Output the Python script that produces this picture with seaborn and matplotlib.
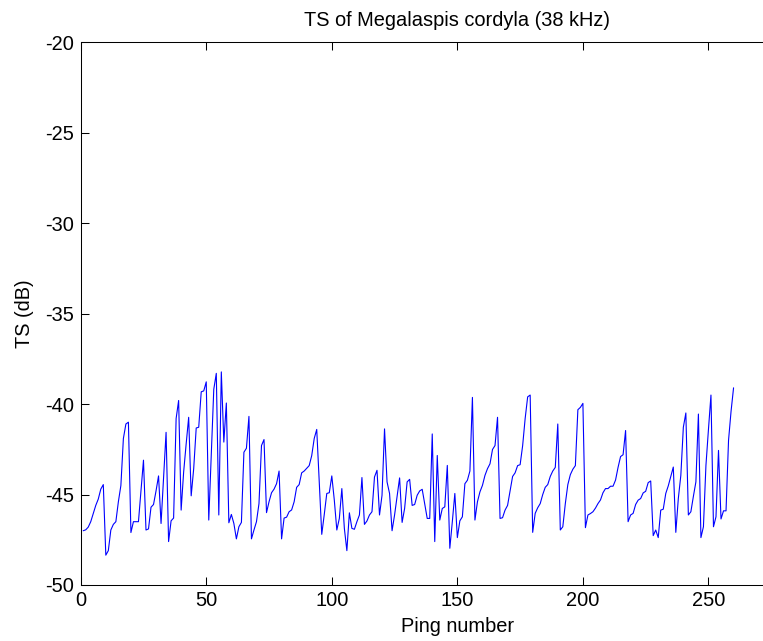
import numpy as np
import pandas as pd
import matplotlib
matplotlib.use("Agg")
import matplotlib.pyplot as plt
import seaborn as sns

# Target strength per ping (dB), pings 1..260
ping = np.arange(1, 261)
ts_db = [
    -47.0, -46.95, -46.8, -46.5, -46.05, -45.6, -45.25, -44.7, -44.45, -48.35,
    -48.1, -46.96, -46.65, -46.5, -45.4, -44.5, -41.9, -41.1, -41.0, -47.1,
    -46.5, -46.5, -46.5, -44.8, -43.1, -46.96, -46.9, -45.7, -45.55, -44.8,
    -43.97, -46.6, -44.1, -41.56, -47.6, -46.45, -46.3, -40.8, -39.8, -45.86,
    -43.75, -42.2, -40.73, -45.07, -43.57, -41.32, -41.28, -39.32, -39.27, -38.77,
    -46.41, -42.8, -39.18, -38.3, -46.13, -38.22, -42.1, -39.94, -46.56, -46.1,
    -46.6, -47.45, -46.78, -46.54, -42.66, -42.44, -40.68, -47.45, -46.96, -46.5,
    -45.5, -42.29, -41.96, -46.0, -45.4, -44.9, -44.7, -44.4, -43.7, -47.45,
    -46.3, -46.25, -45.95, -45.85, -45.4, -44.6, -44.45, -43.8, -43.7, -43.55,
    -43.4, -42.85, -41.9, -41.4, -44.3, -47.2, -46.1, -44.94, -44.9, -43.97,
    -45.31, -46.96, -46.32, -44.67, -46.87, -48.1, -46.01, -46.87, -46.92, -46.5,
    -46.13, -44.06, -46.65, -46.46, -46.13, -45.95, -44.03, -43.66, -46.13, -45.04,
    -41.37, -44.3, -44.94, -47.0, -46.13, -45.1, -44.08, -46.54, -45.77, -44.3,
    -44.16, -45.6, -45.55, -45.04, -44.8, -44.71, -45.5, -46.32, -46.32, -41.65,
    -47.6, -42.84, -46.41, -45.77, -45.68, -43.39, -47.97, -46.5, -44.94, -47.38,
    -46.45, -46.23, -44.4, -44.21, -43.7, -39.63, -46.41, -45.4, -44.85, -44.49,
    -43.94, -43.57, -43.3, -42.51, -42.29, -40.73, -46.32, -46.28, -45.86, -45.6,
    -44.8, -44.0, -43.8, -43.4, -43.35, -42.3, -40.8, -39.6, -39.5, -47.09,
    -46.04, -45.73, -45.5, -45.0, -44.6, -44.45, -44.0, -43.7, -43.5, -41.1,
    -46.96, -46.78, -45.5, -44.45, -43.9, -43.6, -43.4, -40.31, -40.18, -39.96,
    -46.83, -46.13, -46.05, -45.95, -45.75, -45.5, -45.3, -44.9, -44.67, -44.67,
    -44.54, -44.54, -44.2, -43.5, -42.9, -42.8, -41.46, -46.5, -46.13, -46.04,
    -45.55, -45.31, -45.22, -44.91, -44.82, -44.34, -44.25, -47.27, -46.96, -47.38,
    -45.86, -45.81, -44.94, -44.52, -44.0, -43.48, -47.09, -45.22, -43.94, -41.28,
    -40.49, -46.13, -45.95, -45.1, -44.3, -40.55, -47.38, -46.78, -43.39, -41.4,
    -39.5, -46.78, -46.23, -42.56, -46.35, -45.9, -45.9, -42.0, -40.4, -39.1,
]
x_ticks = [0, 50, 100, 150, 200, 250]
y_ticks = [-50, -45, -40, -35, -30, -25, -20]

df = pd.DataFrame({"ping": ping, "ts": ts_db})

sns.set_theme(style="white")
plt.rcParams["font.family"] = ["Liberation Sans", "DejaVu Sans"]

W, H = 763, 641
fig = plt.figure(figsize=(W / 100, H / 100), dpi=100)
fig.patch.set_facecolor("white")

# axes box: x 0..300 spans 80.7 -> 834 px, y -50..-20 spans 585 -> 42.3 px
left, right = 80.7, 834.0
top, bottom = 42.3, 585.0
ax = fig.add_axes([left / W, 1 - bottom / H, (right - left) / W, (bottom - top) / H])

sns.lineplot(data=df, x="ping", y="ts", color=(0, 0, 1), linewidth=0.8, ax=ax)

ax.set_xlim(0, 300)
ax.set_ylim(-50, -20)
ax.set_xticks(x_ticks)
ax.set_yticks(y_ticks)
ax.set_xticklabels([str(v) for v in x_ticks])
ax.set_yticklabels([str(v) for v in y_ticks])

fs = 14.4
ax.tick_params(axis="both", which="both", direction="in", length=5.5, width=0.75,
               colors="black", labelsize=fs, top=True, right=True,
               bottom=True, left=True)
ax.tick_params(axis="x", pad=4.5)
ax.tick_params(axis="y", pad=4.5)
for s in ax.spines.values():
    s.set_visible(True)
    s.set_color("black")
    s.set_linewidth(0.75)

ax.set_title("TS of Megalaspis cordyla (38 kHz)", fontsize=fs, color="black", pad=12)
ax.set_xlabel("Ping number", fontsize=fs, color="black", labelpad=5)
ax.set_ylabel("TS (dB)", fontsize=fs, color="black", labelpad=8)
ax.grid(False)
ax.set_facecolor("white")

fig.savefig("out.png", dpi=100, facecolor="white")
